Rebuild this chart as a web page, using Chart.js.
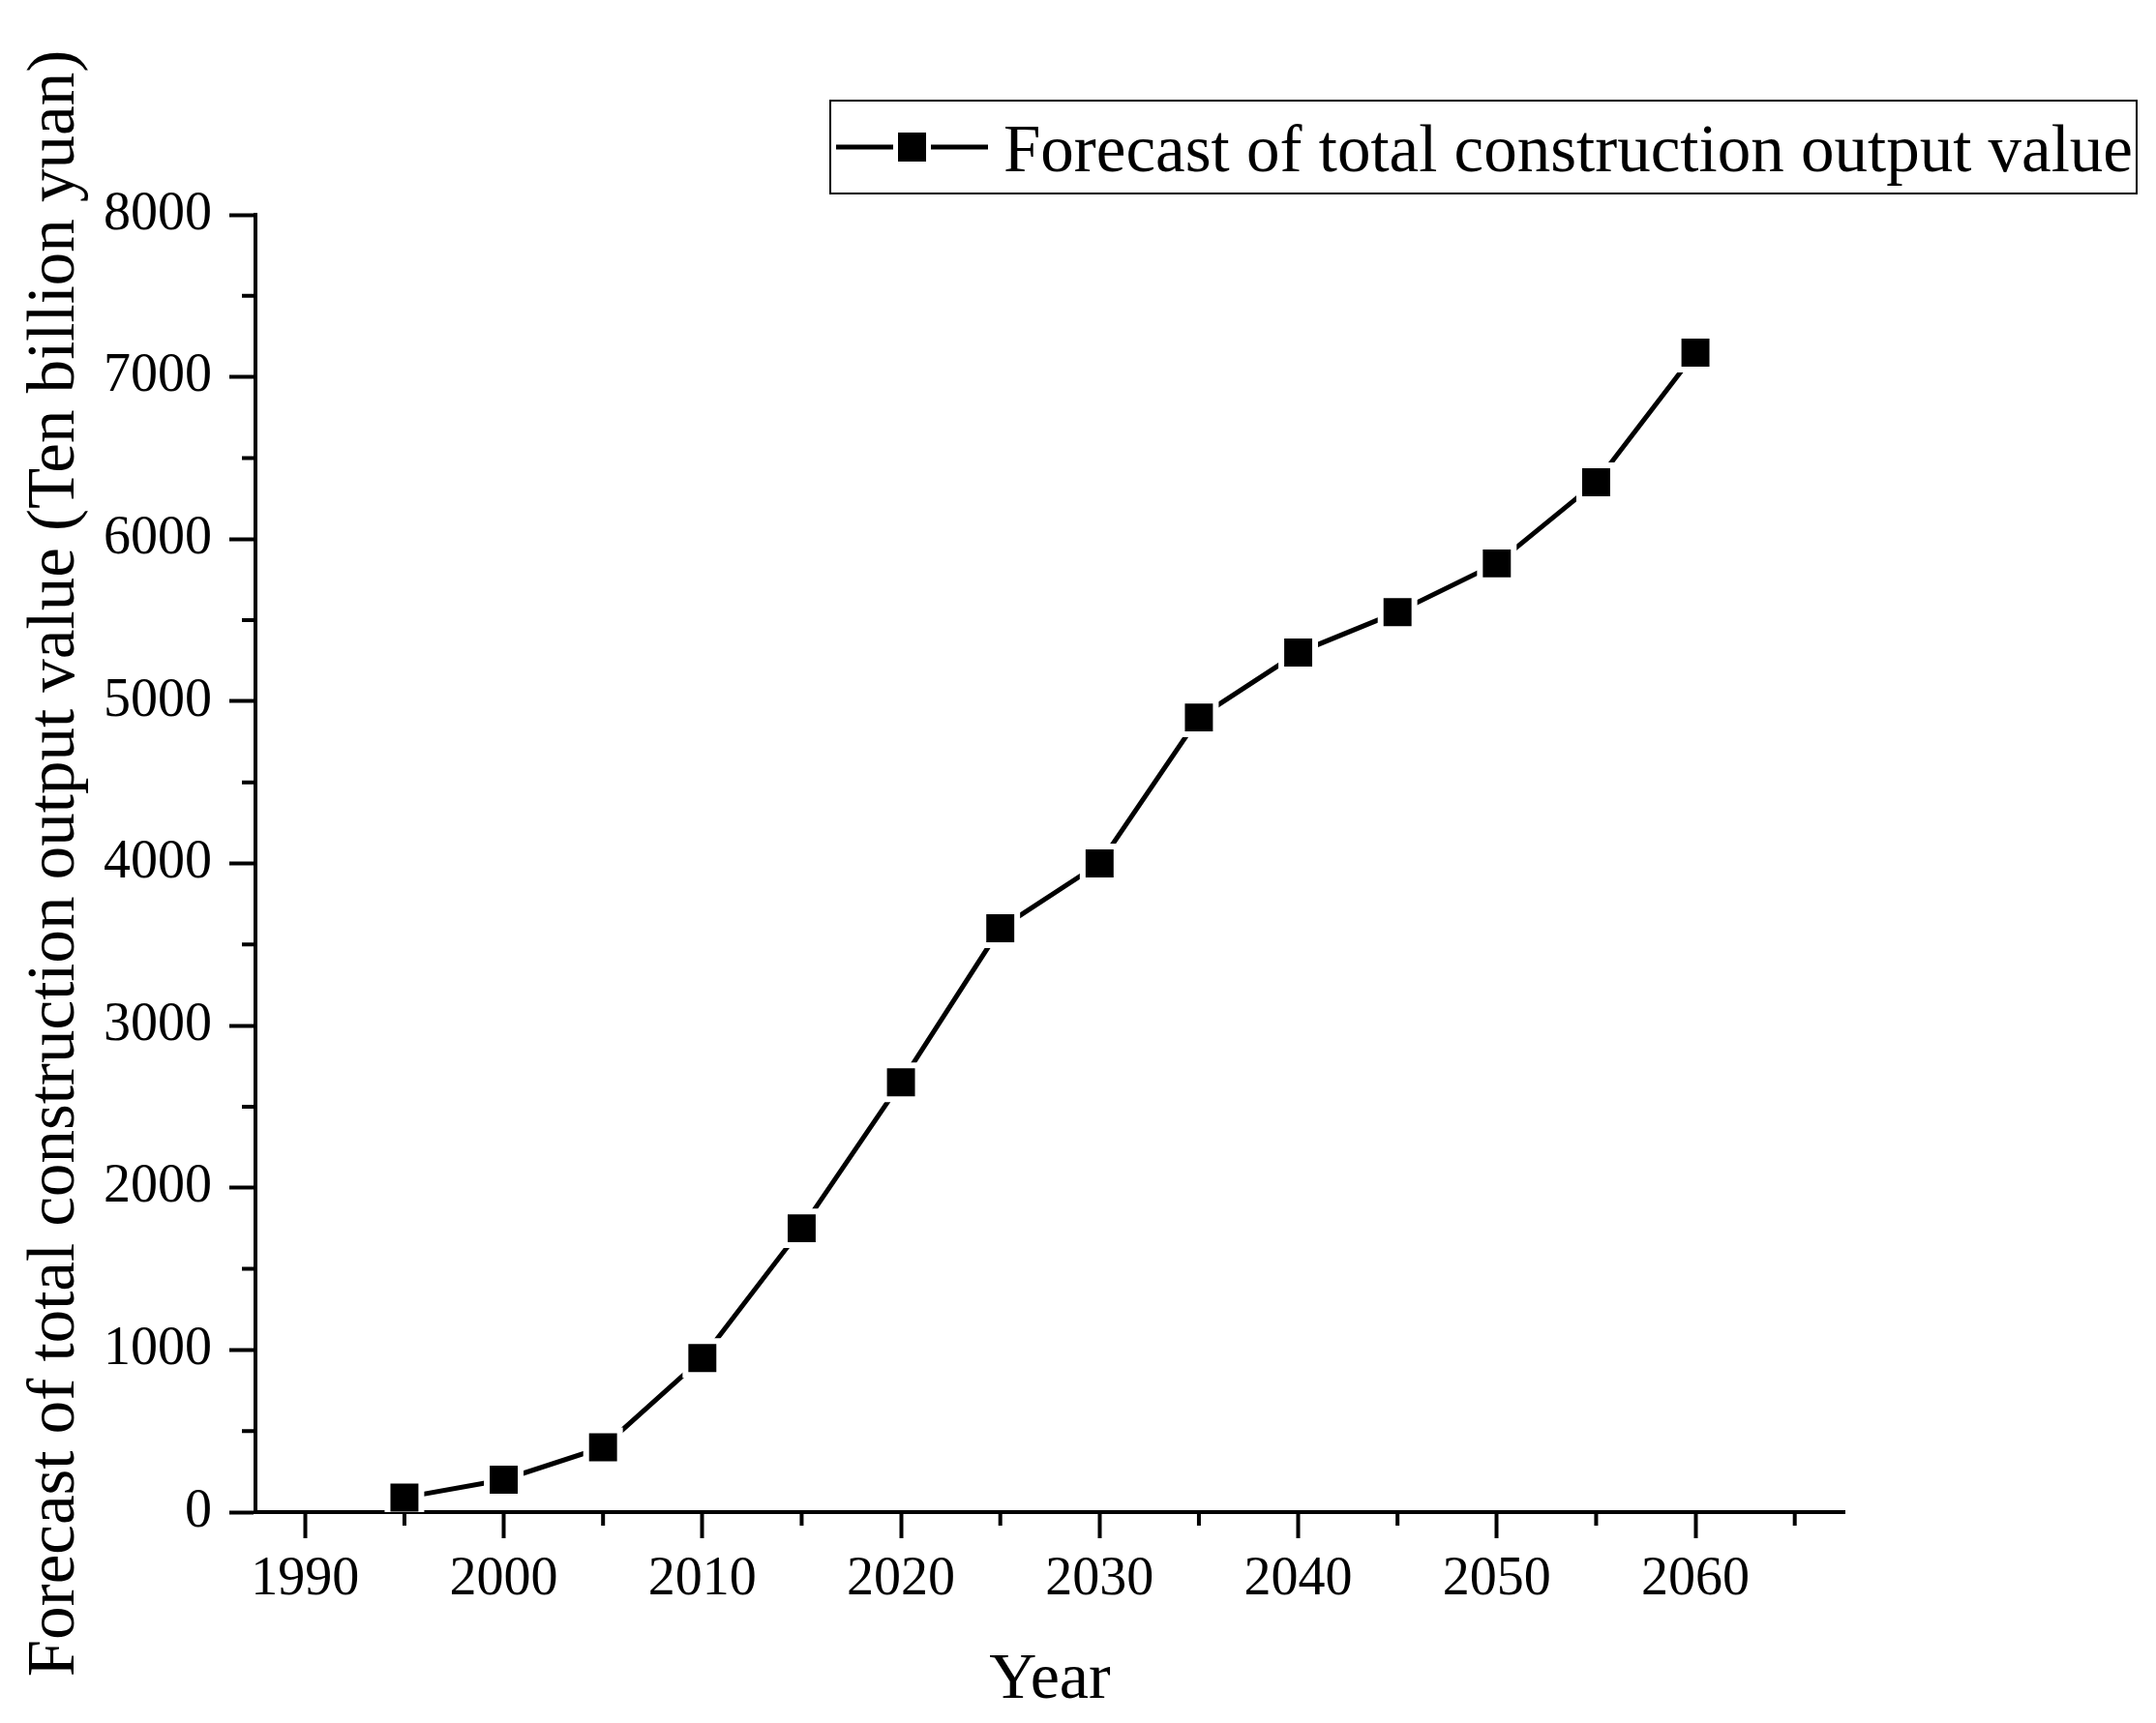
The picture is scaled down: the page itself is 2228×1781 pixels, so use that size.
<!DOCTYPE html>
<html>
<head>
<meta charset="utf-8">
<title>Forecast of total construction output value</title>
<script src="https://cdn.jsdelivr.net/npm/chart.js@4.4.1/dist/chart.umd.min.js"></script>
<style>
  html, body { margin: 0; padding: 0; background: #fff; }
  #wrap { width: 2228px; height: 1781px; }
</style>
</head>
<body>
<div id="wrap"><canvas id="forecastChart"></canvas></div>
<script>
// values
const years = [1995, 2000, 2005, 2010, 2015, 2020, 2025, 2030, 2035, 2040, 2045, 2050, 2055, 2060];
const outputValue = [90, 200, 400, 950, 1750, 2650, 3600, 4000, 4900, 5300, 5550, 5850, 6350, 7150];

const xTickYears = [1990, 2000, 2010, 2020, 2030, 2040, 2050, 2060];
const xMinorYears = [1995, 2005, 2015, 2025, 2035, 2045, 2055, 2065];
const yTickValues = [0, 1000, 2000, 3000, 4000, 5000, 6000, 7000, 8000];
const yMinorValues = [500, 1500, 2500, 3500, 4500, 5500, 6500, 7500];

const seriesLabel = 'Forecast of total construction output value';
const xTitle = 'Year';
const yTitle = 'Forecast of total construction output value (Ten billion yuan)';

const FONT = "'Liberation Serif', 'Times New Roman', serif";

// small ticks between the labelled ones
const minorTicks = {
    id: 'minorTicks',
    afterDraw(chart) {
        const { ctx, scales: { x, y } } = chart;
        ctx.save();
        ctx.strokeStyle = '#000';
        ctx.lineWidth = 4;
        ctx.beginPath();
        xMinorYears.forEach(v => {
            const px = x.getPixelForValue(v);
            ctx.moveTo(px, x.top);
            ctx.lineTo(px, x.top + 14);
        });
        yMinorValues.forEach(v => {
            const py = y.getPixelForValue(v);
            ctx.moveTo(y.right, py);
            ctx.lineTo(y.right - 14, py);
        });
        ctx.stroke();
        ctx.restore();
    }
};

// boxed legend in the Origin style: line - square - line
const boxLegend = {
    id: 'boxLegend',
    afterDraw(chart) {
        const { ctx } = chart;
        const label = chart.data.datasets[0].label;
        ctx.save();
        ctx.strokeStyle = '#000';
        ctx.lineWidth = 2;
        ctx.strokeRect(858, 104, 1350, 96);

        ctx.lineWidth = 5;
        ctx.beginPath();
        ctx.moveTo(864, 152);
        ctx.lineTo(923, 152);
        ctx.moveTo(962, 152);
        ctx.lineTo(1021, 152);
        ctx.stroke();
        ctx.fillStyle = '#000';
        ctx.fillRect(928, 137, 29, 30);

        ctx.font = '69px ' + FONT;
        ctx.textBaseline = 'alphabetic';
        ctx.textAlign = 'left';
        ctx.fillText(label, 1037, 177);
        ctx.restore();
    }
};

function initializeChart() {
    const ctx = document.getElementById('forecastChart');

    new Chart(ctx, {
        type: 'line',
        data: {
            datasets: [{
                label: seriesLabel,
                data: years.map((yr, i) => ({ x: yr, y: outputValue[i] })),
                borderColor: '#000',
                borderWidth: 5,
                tension: 0,
                pointStyle: 'rect',
                pointRadius: 24.7,
                pointBackgroundColor: '#000',
                pointBorderColor: '#fff',
                pointBorderWidth: 6,
                pointHoverRadius: 24.7
            }]
        },
        options: {
            responsive: true,
            maintainAspectRatio: false,
            animation: false,
            devicePixelRatio: 1,
            layout: { padding: { top: 222, right: 322, left: 0, bottom: 0 } },
            plugins: {
                legend: { display: false },
                tooltip: { enabled: false }
            },
            scales: {
                x: {
                    type: 'linear',
                    min: 1987.5,
                    max: 2067.5,
                    z: 1,
                    afterBuildTicks: scale => {
                        scale.ticks = xTickYears.map(v => ({ value: v }));
                    },
                    afterFit: scale => { scale.height = 218; },
                    border: { display: true, color: '#000', width: 4 },
                    grid: {
                        drawOnChartArea: false,
                        drawTicks: true,
                        tickLength: 27,
                        tickWidth: 4,
                        tickColor: '#000'
                    },
                    ticks: {
                        color: '#000',
                        padding: 10,
                        maxRotation: 0,
                        autoSkip: false,
                        font: { family: FONT, size: 56 },
                        callback: v => String(v)
                    },
                    title: {
                        display: true,
                        text: xTitle,
                        color: '#000',
                        padding: { top: 0, bottom: 3 },
                        font: { family: FONT, size: 68 }
                    }
                },
                y: {
                    min: 0,
                    max: 8000,
                    z: 1,
                    afterBuildTicks: scale => {
                        scale.ticks = yTickValues.map(v => ({ value: v }));
                    },
                    afterFit: scale => { scale.width = 264; },
                    border: { display: true, color: '#000', width: 4 },
                    grid: {
                        drawOnChartArea: false,
                        drawTicks: true,
                        tickLength: 27,
                        tickWidth: 4,
                        tickColor: '#000'
                    },
                    ticks: {
                        color: '#000',
                        padding: 18,
                        autoSkip: false,
                        font: { family: FONT, size: 56 },
                        callback: v => String(v)
                    },
                    title: {
                        display: true,
                        text: yTitle,
                        color: '#000',
                        padding: { top: 16, bottom: 0 },
                        font: { family: FONT, size: 69 }
                    }
                }
            }
        },
        plugins: [minorTicks, boxLegend]
    });
}

initializeChart();
</script>
</body>
</html>
